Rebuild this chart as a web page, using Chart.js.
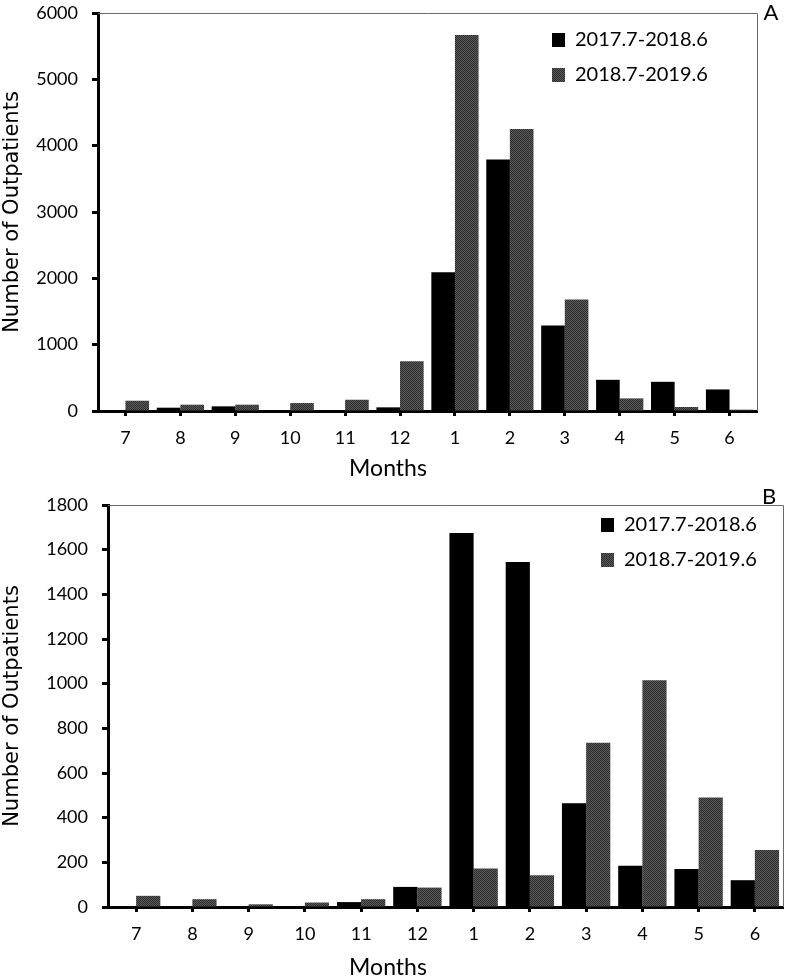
<!DOCTYPE html>
<html>
<head>
<meta charset="utf-8">
<script src="https://cdn.jsdelivr.net/npm/chart.js@4.4.1/dist/chart.umd.min.js"></script>
<style>
html,body{margin:0;padding:0;background:#fff;}
#wrap{position:relative;width:787px;height:980px;background:#fff;}
canvas{position:absolute;left:0;}
</style>
</head>
<body>
<div id="wrap">
<canvas id="chartA" width="787" height="490" style="top:0px"></canvas>
<canvas id="chartB" width="787" height="500" style="top:480px"></canvas>
</div>
<script>
// ---- data ----
const months = ['7', '8', '9', '10', '11', '12', '1', '2', '3', '4', '5', '6'];
const seriesLabels = ['2017.7-2018.6', '2018.7-2019.6'];
const xTitle = 'Months';
const yTitle = 'Number of Outpatients';

// Panel A
const panelA_2017 = [15, 50, 70, 10, 10, 55, 2090, 3790, 1290, 470, 440, 325];
const panelA_2018 = [155, 95, 95, 120, 170, 750, 5670, 4250, 1680, 190, 60, 20];
const panelA_yTicks = [0, 1000, 2000, 3000, 4000, 5000, 6000];

// Panel B
const panelB_2017 = [2, 2, 2, 3, 22, 90, 1675, 1545, 465, 185, 170, 120];
const panelB_2018 = [50, 35, 12, 20, 35, 87, 172, 142, 735, 1015, 490, 255];
const panelB_yTicks = [0, 200, 400, 600, 800, 1000, 1200, 1400, 1600, 1800];

// ---- fine crosshatched dark-gray fill ----
function makeHatch() {
  const c = document.createElement('canvas');
  c.width = 2; c.height = 2;
  const x = c.getContext('2d');
  x.fillStyle = '#2c2c2c';
  x.fillRect(0, 0, 2, 2);
  x.fillStyle = '#5c5c5c';
  x.fillRect(1, 0, 1, 1);
  x.fillRect(0, 1, 1, 1);
  return x.createPattern(c, 'repeat');
}
const grayFill = makeHatch();

const deco = {
  id: 'panelDeco',
  afterLayout(chart, args, o) {
    const lg = chart.legend;
    if (!lg) return;
    const ca = chart.chartArea;
    const w = lg.width, h = lg.height;
    lg.left = ca.right - o.legendRight;
    lg.top = ca.top + o.legendTop;
    lg.right = lg.left + w;
    lg.bottom = lg.top + h;
  },
  afterDraw(chart, args, o) {
    const {ctx, chartArea: ca} = chart;
    ctx.save();
    ctx.strokeStyle = '#6a6a6a';
    ctx.lineWidth = 1;
    ctx.beginPath();
    ctx.moveTo(ca.left, Math.round(ca.top) + 0.5);
    ctx.lineTo(Math.round(ca.right) + 0.5, Math.round(ca.top) + 0.5);
    ctx.lineTo(Math.round(ca.right) + 0.5, ca.bottom);
    ctx.stroke();
    ctx.fillStyle = '#000';
    ctx.textAlign = 'center';
    ctx.textBaseline = 'middle';
    ctx.font = '23px Lato';
    ctx.fillText(xTitle, o.xTitleX, o.xTitleY);
    ctx.font = '22px Lato';
    ctx.fillText(o.panel, o.panelX, o.panelY);
    ctx.restore();
  }
};

function makeChart(id, cfg) {
  const H = cfg.H;
  return new Chart(document.getElementById(id), {
    type: 'bar',
    data: {
      labels: months,
      datasets: [
        {label: seriesLabels[0], data: cfg.d1, backgroundColor: '#000000', borderWidth: 0,
         categoryPercentage: 0.86, barPercentage: 1.0},
        {label: seriesLabels[1], data: cfg.d2, backgroundColor: grayFill, borderWidth: 0,
         categoryPercentage: 0.86, barPercentage: 1.0}
      ]
    },
    options: {
      responsive: false,
      animation: false,
      devicePixelRatio: 1,
      layout: {padding: {left: 0, top: cfg.top, right: 787 - cfg.right, bottom: 0}},
      plugins: {
        legend: {
          position: 'chartArea',
          align: 'start',
          labels: {boxWidth: 13, boxHeight: 14, padding: 15, color: '#000',
                   font: {family: 'Lato', size: 20}}
        },
        tooltip: {enabled: false},
        panelDeco: cfg.deco
      },
      scales: {
        x: {
          grid: {display: true, offset: false, drawOnChartArea: false, drawTicks: true,
                 tickLength: 5, tickWidth: 3, tickColor: '#000'},
          border: {display: true, color: '#000', width: 3},
          ticks: {color: '#000', font: {family: 'Lato', size: 18}, padding: 11,
                  maxRotation: 0, autoSkip: false},
          afterFit: s => { s.height = H - cfg.bottom; s.paddingLeft = 0; s.paddingRight = 0; }
        },
        y: {
          min: cfg.yTicks[0],
          max: cfg.yTicks[cfg.yTicks.length - 1],
          afterBuildTicks: s => { s.ticks = cfg.yTicks.map(v => ({value: v})); },
          grid: {display: true, drawOnChartArea: false, drawTicks: true,
                 tickLength: 6, tickWidth: 3, tickColor: '#000'},
          border: {display: true, color: '#000', width: 3},
          ticks: {color: '#000', font: {family: 'Lato', size: 18}, padding: 14,
                  callback: v => String(v)},
          title: {display: true, text: yTitle, color: '#000',
                  font: {family: 'DejaVu Sans', size: 21}, padding: 0},
          afterFit: s => { s.width = cfg.left; s.paddingTop = 0; s.paddingBottom = 0; }
        }
      }
    },
    plugins: [deco]
  });
}

makeChart('chartA', {
  H: 490,
  d1: panelA_2017, d2: panelA_2018, yTicks: panelA_yTicks,
  left: 98, right: 757, top: 13, bottom: 411,
  deco: {legendRight: 220, legendTop: 2, xTitleX: 388, xTitleY: 469,
         panel: 'A', panelX: 771, panelY: 13}
});
makeChart('chartB', {
  H: 500,
  d1: panelB_2017, d2: panelB_2018, yTicks: panelB_yTicks,
  left: 108, right: 783, top: 25, bottom: 427,
  deco: {legendRight: 197, legendTop: -5, xTitleX: 388, xTitleY: 488,
         panel: 'B', panelX: 769, panelY: 17}
});
</script>
</body>
</html>
